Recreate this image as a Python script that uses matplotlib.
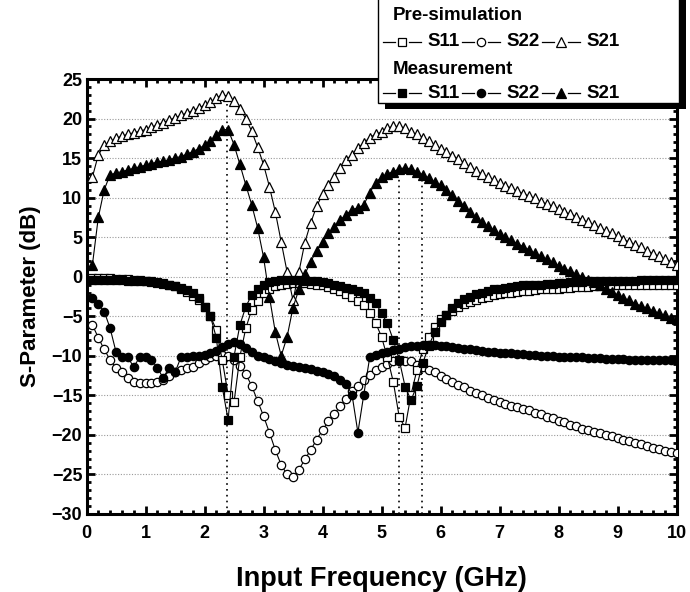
import numpy as np
import matplotlib
matplotlib.use("Agg")
import matplotlib.pyplot as plt
from matplotlib.lines import Line2D
from matplotlib.patches import Rectangle
from matplotlib.ticker import MultipleLocator

plt.rcParams['font.family'] = ['Liberation Sans', 'DejaVu Sans']
plt.rcParams['font.weight'] = 'bold'

# Frequency grid (GHz)
freq_ghz = np.round(np.arange(1, 101) * 0.1, 1)

# Pre-simulation S-parameters (dB)
sim_s11 = [
    -0.2, -0.2, -0.2, -0.2, -0.3, -0.3, -0.3, -0.4, -0.4, -0.5,
    -0.6, -0.7, -0.8, -1.0, -1.2, -1.5, -1.9, -2.4, -3.0, -3.8,
    -5.0, -6.7, -10.5, -14.9, -15.9, -10.1, -6.5, -4.2, -3.1, -2.0,
    -1.5, -1.2, -1.0, -0.9, -0.8, -0.8, -0.8, -0.9, -1.0, -1.1,
    -1.3, -1.5, -1.8, -2.2, -2.6, -3.1, -3.6, -4.6, -5.8, -7.6,
    -10.2, -13.3, -17.7, -19.1, -14.9, -11.8, -9.2, -7.6, -6.3, -5.4,
    -4.8, -4.3, -3.8, -3.5, -3.2, -2.9, -2.7, -2.5, -2.3, -2.2,
    -2.1, -2.0, -1.9, -1.8, -1.8, -1.7, -1.6, -1.6, -1.5, -1.5,
    -1.4, -1.4, -1.3, -1.3, -1.3, -1.2, -1.2, -1.2, -1.1, -1.1,
    -1.1, -1.1, -1.0, -1.0, -1.0, -1.0, -1.0, -1.0, -1.0, -1.0,
]
sim_s22 = [
    -6.1, -7.7, -9.2, -10.5, -11.5, -12.1, -12.8, -13.3, -13.4, -13.4,
    -13.4, -13.3, -13.0, -12.6, -12.1, -11.8, -11.6, -11.4, -10.9, -10.5,
    -10.1, -10.0, -9.9, -10.0, -10.5, -11.3, -12.3, -13.8, -15.7, -17.6,
    -19.7, -21.9, -23.8, -25.0, -25.3, -24.4, -23.1, -21.9, -20.6, -19.4,
    -18.3, -17.3, -16.4, -15.4, -14.5, -13.8, -13.0, -12.4, -11.8, -11.4,
    -11.0, -10.7, -10.6, -10.6, -10.7, -11.1, -11.4, -11.8, -12.1, -12.6,
    -12.9, -13.3, -13.7, -14.0, -14.4, -14.7, -15.0, -15.3, -15.6, -15.8,
    -16.1, -16.3, -16.5, -16.7, -16.9, -17.2, -17.4, -17.7, -17.9, -18.2,
    -18.4, -18.7, -18.9, -19.2, -19.4, -19.6, -19.8, -20.0, -20.2, -20.4,
    -20.6, -20.8, -21.0, -21.2, -21.4, -21.6, -21.8, -22.0, -22.2, -22.3,
]
sim_s21 = [
    12.6, 15.4, 16.6, 17.1, 17.5, 17.8, 18.0, 18.2, 18.4, 18.6,
    18.9, 19.2, 19.5, 19.8, 20.1, 20.4, 20.7, 21.0, 21.3, 21.7,
    22.1, 22.6, 23.0, 22.8, 22.2, 21.2, 20.0, 18.4, 16.4, 14.2,
    11.4, 8.2, 4.4, 0.6, -3.0, 0.6, 4.3, 6.8, 8.9, 10.4,
    11.6, 12.6, 13.8, 14.8, 15.4, 16.3, 16.9, 17.6, 18.0, 18.3,
    18.8, 19.0, 19.0, 18.8, 18.3, 18.0, 17.6, 17.2, 16.7, 16.2,
    15.8, 15.3, 14.9, 14.4, 13.9, 13.4, 13.0, 12.6, 12.2, 11.8,
    11.5, 11.2, 10.8, 10.5, 10.2, 9.9, 9.5, 9.2, 8.9, 8.6,
    8.2, 7.9, 7.6, 7.2, 6.9, 6.5, 6.2, 5.8, 5.5, 5.1,
    4.7, 4.4, 4.0, 3.7, 3.3, 2.9, 2.6, 2.2, 1.9, 1.5,
]

# Measured S-parameters (dB)
meas_s11 = [
    -0.4, -0.4, -0.4, -0.4, -0.4, -0.4, -0.5, -0.5, -0.5, -0.6,
    -0.7, -0.8, -0.9, -1.0, -1.2, -1.4, -1.7, -2.1, -2.7, -3.8,
    -5.0, -7.7, -13.9, -18.1, -10.1, -6.1, -3.8, -2.3, -1.5, -1.0,
    -0.7, -0.5, -0.4, -0.4, -0.4, -0.4, -0.5, -0.5, -0.6, -0.7,
    -0.8, -1.0, -1.2, -1.4, -1.6, -1.8, -2.1, -2.7, -3.3, -4.6,
    -5.9, -8.0, -10.5, -13.9, -15.6, -13.8, -10.9, -8.8, -7.0, -5.7,
    -4.8, -3.9, -3.3, -2.8, -2.5, -2.2, -2.0, -1.8, -1.6, -1.5,
    -1.4, -1.3, -1.2, -1.1, -1.1, -1.0, -1.0, -0.9, -0.9, -0.8,
    -0.8, -0.7, -0.7, -0.7, -0.6, -0.6, -0.6, -0.6, -0.5, -0.5,
    -0.5, -0.5, -0.5, -0.4, -0.4, -0.4, -0.4, -0.4, -0.4, -0.4,
]
meas_s22 = [
    -2.7, -3.5, -4.4, -6.5, -9.5, -10.1, -10.2, -11.4, -10.2, -10.1,
    -10.5, -11.5, -12.8, -11.5, -12.1, -10.2, -10.1, -10.0, -10.0, -9.9,
    -9.7, -9.4, -8.9, -8.5, -8.3, -8.5, -9.0, -9.5, -10.0, -10.2,
    -10.4, -10.7, -10.9, -11.1, -11.3, -11.4, -11.6, -11.7, -11.9, -12.1,
    -12.3, -12.6, -13.0, -13.5, -14.9, -19.7, -14.9, -10.2, -9.9, -9.7,
    -9.5, -9.3, -9.1, -8.9, -8.8, -8.7, -8.6, -8.6, -8.6, -8.7,
    -8.8, -8.9, -9.0, -9.1, -9.2, -9.3, -9.4, -9.5, -9.5, -9.6,
    -9.7, -9.7, -9.8, -9.8, -9.9, -9.9, -10.0, -10.0, -10.0, -10.1,
    -10.1, -10.2, -10.2, -10.2, -10.3, -10.3, -10.3, -10.4, -10.4, -10.4,
    -10.4, -10.5, -10.5, -10.5, -10.5, -10.5, -10.5, -10.5, -10.5, -10.5,
]
meas_s21 = [
    1.5, 7.5, 11.0, 12.9, 13.1, 13.3, 13.5, 13.7, 13.9, 14.1,
    14.3, 14.5, 14.6, 14.8, 15.0, 15.2, 15.5, 15.8, 16.2, 16.6,
    17.2, 17.9, 18.6, 18.6, 16.7, 14.2, 11.6, 9.1, 6.2, 2.5,
    -2.5, -7.0, -10.0, -7.6, -3.9, -1.6, 0.3, 1.9, 3.3, 4.4,
    5.5, 6.3, 7.2, 7.8, 8.5, 8.7, 9.1, 10.6, 11.9, 12.6,
    13.0, 13.3, 13.6, 13.8, 13.6, 13.3, 12.9, 12.5, 12.0, 11.6,
    11.0, 10.3, 9.6, 8.9, 8.2, 7.5, 6.9, 6.4, 5.9, 5.4,
    5.0, 4.6, 4.2, 3.8, 3.4, 3.0, 2.6, 2.2, 1.8, 1.4,
    1.0, 0.7, 0.3, 0.0, -0.4, -0.7, -1.1, -1.5, -1.9, -2.3,
    -2.7, -3.0, -3.4, -3.7, -4.0, -4.3, -4.6, -4.9, -5.2, -5.4,
]

# Dotted markers at the band frequencies: (frequency, top of the line in dB)
band_freqs = [2.38, 5.3, 5.69]
band_tops = [22.6, 12.6, 12.4]

x_ticks = list(range(0, 11))
y_ticks = list(range(-30, 26, 5))

W, H = 690, 592
fig = plt.figure(figsize=(W / 100, H / 100), dpi=100)
ax = fig.add_axes([86.5 / W, 1 - 514 / H, 590 / W, 435 / H])

line_kw = dict(color='black', lw=0.8, mec='black', mew=0.9)
series = [
    (sim_s22, 'o', 'white', 6.0),
    (sim_s11, 's', 'white', 5.5),
    (sim_s21, '^', 'white', 7.0),
    (meas_s22, 'o', 'black', 6.0),
    (meas_s11, 's', 'black', 5.5),
    (meas_s21, '^', 'black', 7.0),
]
for i, (vals, mk, fc, ms) in enumerate(series):
    ax.plot(freq_ghz, vals, marker=mk, mfc=fc, ms=ms, zorder=3 + i, **line_kw)

ax.vlines(band_freqs, -30, band_tops, colors='black', linestyles=(0, (1, 2.5)),
          lw=1.2, zorder=2)

ax.set_xlim(0, 10)
ax.set_ylim(-30, 25)
ax.set_xticks(x_ticks)
ax.set_yticks(y_ticks)
ax.xaxis.set_minor_locator(MultipleLocator(0.2))
ax.yaxis.set_minor_locator(MultipleLocator(1))
ax.yaxis.grid(True, which='major', linestyle=(0, (1, 1.5)), color='#9a9a9a',
              lw=0.8, zorder=1)
ax.set_axisbelow(True)
ax.tick_params(which='both', direction='in', top=True, right=True, width=2,
               labelsize=13)
ax.tick_params(which='major', length=6)
ax.tick_params(which='minor', length=3)
ax.tick_params(axis='x', pad=8)
ax.tick_params(axis='y', pad=3)
for lab in ax.get_xticklabels() + ax.get_yticklabels():
    lab.set_fontweight('bold')
for sp in ax.spines.values():
    sp.set_linewidth(2.2)

ax.set_xlabel('Input Frequency (GHz)', fontsize=19.5, fontweight='bold', labelpad=17)
ax.set_ylabel('S-Parameter (dB)', fontsize=16, fontweight='bold', labelpad=8)


# Legend panel with drop shadow, placed in figure pixel coordinates
def fx(x):
    return x / W


def fy(y):
    return 1 - y / H


shadow = Rectangle((fx(385), fy(109)), fx(686) - fx(385), fy(-10) - fy(109),
                   transform=fig.transFigure, facecolor='black',
                   edgecolor='none', zorder=10)
box = Rectangle((fx(378), fy(103)), fx(679) - fx(378), fy(-10) - fy(103),
                transform=fig.transFigure, facecolor='white',
                edgecolor='black', lw=1.0, zorder=11)
fig.add_artist(shadow)
fig.add_artist(box)

fig.text(fx(393), fy(15), 'Pre-simulation', fontsize=13.5, fontweight='bold',
         ha='left', va='center', zorder=12)
fig.text(fx(393), fy(69), 'Measurement', fontsize=13.5, fontweight='bold',
         ha='left', va='center', zorder=12)

entries = [('S11', 's', 5.5), ('S22', 'o', 6.0), ('S21', '^', 7.0)]
starts = [383, 462, 542]
for row_y, fc in [(42, 'white'), (93, 'black')]:
    for (lab, mk, ms), x0 in zip(entries, starts):
        xm = x0 + 19
        for a, b in [(x0, xm - 7), (xm + 7, xm + 19)]:
            fig.add_artist(Line2D([fx(a), fx(b)], [fy(row_y)] * 2,
                                  transform=fig.transFigure, color='black',
                                  lw=0.9, zorder=12))
        fig.add_artist(Line2D([fx(xm)], [fy(row_y)], transform=fig.transFigure,
                              marker=mk, ms=ms, mfc=fc, mec='black', mew=0.9,
                              ls='none', zorder=12))
        fig.text(fx(xm + 25), fy(row_y), lab, fontsize=13.5, fontweight='bold',
                 ha='left', va='center', zorder=12)

fig.savefig('out.png', dpi=100)
